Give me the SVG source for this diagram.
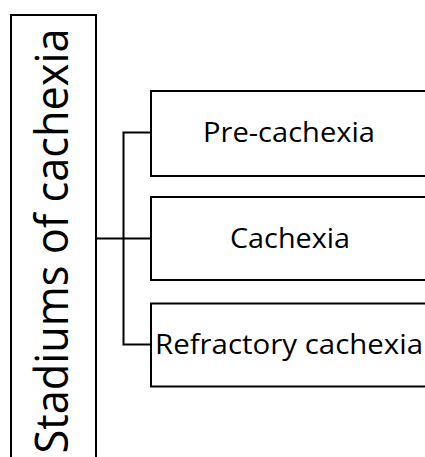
<svg xmlns="http://www.w3.org/2000/svg" width="425" height="457" viewBox="0 0 425 457">
<style>
.box{fill:#fff;stroke:#000;stroke-width:2}
.lbl{font-family:"Open Sans","Noto Sans",sans-serif;font-size:28px;fill:#000;text-anchor:middle}
.title{font-family:"Open Sans","Noto Sans",sans-serif;font-size:45px;fill:#000;text-anchor:middle}
.conn{fill:none;stroke:#000;stroke-width:2}
</style>
<rect width="425" height="457" fill="#fff"/>
<g id="root">
<rect class="box" x="11" y="15" width="85" height="460"/>
<text class="title" transform="translate(68,241) rotate(-90)" textLength="425" lengthAdjust="spacingAndGlyphs">Stadiums of cachexia</text>
</g>
<g id="connectors">
<path class="conn" d="M96,238.5 H151 M151,132.5 H123.5 V344.5 H151"/>
</g>
<g id="pre">
<rect class="box" x="151" y="91" width="290" height="85"/>
<text class="lbl" x="289" y="142" textLength="172" lengthAdjust="spacingAndGlyphs">Pre-cachexia</text>
</g>
<g id="cach">
<rect class="box" x="151" y="197" width="290" height="83"/>
<text class="lbl" x="290" y="247.5" textLength="120" lengthAdjust="spacingAndGlyphs">Cachexia</text>
</g>
<g id="refr">
<rect class="box" x="151" y="303.5" width="290" height="83"/>
<text class="lbl" x="289" y="354" textLength="268" lengthAdjust="spacingAndGlyphs">Refractory cachexia</text>
</g>
</svg>
